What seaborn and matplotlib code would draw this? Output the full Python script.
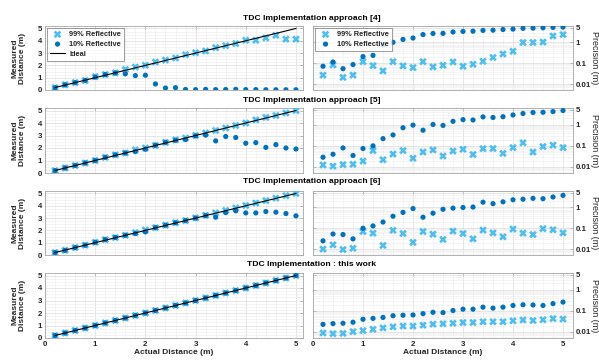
import matplotlib
matplotlib.use("Agg")
import matplotlib.pyplot as plt
import seaborn as sns
import pandas as pd
import numpy as np
from matplotlib.ticker import FixedLocator, NullFormatter, LogLocator

sns.set_theme(style="white")
plt.rcParams['font.family'] = ['Liberation Sans', 'DejaVu Sans']
plt.rcParams['font.weight'] = 'bold'

W, H = 599, 361

actual = [0.2, 0.4, 0.6, 0.8, 1.0, 1.2, 1.4, 1.6, 1.8, 2.0, 2.2, 2.4, 2.6,
          2.8, 3.0, 3.2, 3.4, 3.6, 3.8, 4.0, 4.2, 4.4, 4.6, 4.8, 5.0]

titles = ["TDC Implementation approach [4]", "TDC Implementation approach [5]",
          "TDC Implementation approach [6]", "TDC Implementation : this work"]

# measured distance (m)
meas99_ref4 = [0.18, 0.42, 0.6, 0.77, 1.08, 1.26, 1.39, 1.67, 1.86, 2.01, 2.27, 2.43, 2.6,
               2.87, 3.03, 3.17, 3.44, 3.6, 3.77, 4.04, 4.04, 4.23, 4.45, 4.13, 4.13]
meas10_ref4 = [0.18, 0.42, 0.6, 0.78, 1.05, 1.25, 1.38, 1.31, 1.17, 1.2, 0.49, 0.16, 0.19,
               0.04, 0.03, 0.05, 0.03, 0.04, 0.05, 0.03, 0.03, 0.02, 0.02, 0.02, 0.02]
meas99_ref5 = [0.19, 0.4, 0.6, 0.8, 1.0, 1.25, 1.45, 1.6, 1.85, 2.0, 2.2, 2.45, 2.65,
               2.8, 3.0, 3.2, 3.4, 3.6, 3.8, 4.0, 4.25, 4.45, 4.6, 4.8, 5.0]
meas10_ref5 = [0.19, 0.4, 0.6, 0.8, 1.0, 1.25, 1.45, 1.6, 1.72, 1.9, 2.22, 2.45, 2.62,
               2.68, 2.97, 3.03, 2.57, 2.92, 2.84, 2.38, 2.43, 2.05, 2.27, 2.0, 1.92]
meas99_ref6 = [0.2, 0.38, 0.6, 0.8, 1.03, 1.25, 1.42, 1.6, 1.82, 2.03, 2.22, 2.42, 2.62,
               2.8, 3.02, 3.22, 3.42, 3.62, 3.82, 4.02, 4.22, 4.42, 4.62, 4.82, 5.0]
meas10_ref6 = [0.2, 0.38, 0.6, 0.8, 1.03, 1.25, 1.42, 1.6, 1.75, 1.88, 2.22, 2.42, 2.62,
               2.8, 3.0, 3.2, 3.07, 3.45, 3.59, 3.42, 3.42, 3.53, 3.48, 3.37, 3.18]
meas99_this = [0.2, 0.4, 0.6, 0.8, 1.0, 1.2, 1.4, 1.6, 1.8, 2.0, 2.2, 2.4, 2.6,
               2.8, 3.0, 3.2, 3.4, 3.6, 3.8, 4.0, 4.2, 4.4, 4.6, 4.8, 5.0]
meas10_this = [0.2, 0.4, 0.6, 0.8, 1.0, 1.2, 1.4, 1.6, 1.8, 2.0, 2.2, 2.4, 2.6,
               2.8, 3.0, 3.2, 3.4, 3.6, 3.8, 4.0, 4.2, 4.4, 4.6, 4.8, 5.0]

# precision (m)
prec99_ref4 = [0.027, 0.083, 0.021, 0.027, 0.12, 0.077, 0.043, 0.12, 0.075, 0.062, 0.12, 0.067, 0.08,
               0.116, 0.072, 0.09, 0.125, 0.19, 0.28, 0.38, 1.0, 1.0, 1.05, 2.05, 2.4]
prec10_ref4 = [0.072, 0.115, 0.055, 0.087, 0.21, 0.24, 0.76, 1.02, 1.4, 1.64, 2.4, 2.7, 2.75,
               3.2, 3.4, 3.5, 3.8, 3.9, 4.2, 4.4, 4.8, 4.9, 5.1, 5.3, 5.5]
prec99_ref5 = [0.0125, 0.011, 0.013, 0.0135, 0.019, 0.06, 0.022, 0.041, 0.06, 0.026, 0.051, 0.064, 0.033,
               0.057, 0.069, 0.039, 0.074, 0.075, 0.044, 0.083, 0.14, 0.051, 0.093, 0.108, 0.083]
prec10_ref5 = [0.029, 0.04, 0.08, 0.035, 0.075, 0.1, 0.22, 0.33, 0.72, 0.96, 0.55, 1.03, 0.93,
               1.45, 1.75, 1.68, 2.35, 2.2, 2.4, 2.9, 3.4, 3.8, 3.9, 4.2, 4.7]
prec99_ref6 = [0.01, 0.016, 0.0095, 0.011, 0.07, 0.058, 0.015, 0.08, 0.056, 0.021, 0.07, 0.052, 0.029,
               0.073, 0.056, 0.031, 0.082, 0.06, 0.039, 0.092, 0.058, 0.05, 0.096, 0.085, 0.06]
prec10_ref6 = [0.025, 0.053, 0.05, 0.031, 0.1, 0.13, 0.2, 0.38, 0.58, 0.89, 0.34, 0.53, 0.82,
               0.93, 1.0, 1.05, 1.8, 1.53, 1.87, 2.35, 2.5, 2.75, 2.65, 3.2, 3.8]
prec99_this = [0.009, 0.0083, 0.0086, 0.0104, 0.0116, 0.0134, 0.0156, 0.0175, 0.019, 0.019, 0.021, 0.0235, 0.0245,
               0.026, 0.028, 0.028, 0.0305, 0.0305, 0.0305, 0.034, 0.037, 0.035, 0.038, 0.043, 0.041]
prec10_this = [0.023, 0.025, 0.026, 0.029, 0.04, 0.044, 0.049, 0.059, 0.062, 0.064, 0.074, 0.086, 0.083,
               0.104, 0.12, 0.12, 0.15, 0.135, 0.15, 0.18, 0.195, 0.19, 0.18, 0.22, 0.26]

meas99 = [meas99_ref4, meas99_ref5, meas99_ref6, meas99_this]
meas10 = [meas10_ref4, meas10_ref5, meas10_ref6, meas10_this]
prec99 = [prec99_ref4, prec99_ref5, prec99_ref6, prec99_this]
prec10 = [prec10_ref4, prec10_ref5, prec10_ref6, prec10_this]

C99 = "#4DBEEE"
C10 = "#0072BD"
FRAME = "#a6a6a6"
TXT = "#262626"
S99, S10 = 30, 14

fig = plt.figure(figsize=(W / 100, H / 100), dpi=100)

def rect(l, t, r, b):
    return [l / W, 1 - b / H, (r - l) / W, (b - t) / H]

panel_tb = [(26, 90), (108, 173), (191, 255), (273, 338)]
title_y = [18, 100, 182, 264]

def style_axes(ax):
    for s in ax.spines.values():
        s.set_color(FRAME)
        s.set_linewidth(0.6)
    ax.grid(True, which='major', color='#dcdcdc', linewidth=0.5)
    ax.grid(True, which='minor', color='#ececec', linewidth=0.4)
    ax.tick_params(which='both', direction='in', color=FRAME, labelsize=5.7,
                   labelcolor=TXT, pad=2, top=True, width=0.5)
    ax.tick_params(which='major', length=2.5)
    ax.tick_params(which='minor', length=0)
    ax.set_axisbelow(True)

def make_legend(ax):
    leg = ax.legend(loc="upper left", fontsize=5.3, frameon=True, borderpad=0.4,
                    handlelength=2.0, labelspacing=0.35, borderaxespad=0.3,
                    handletextpad=0.6, fancybox=False)
    leg.get_frame().set_edgecolor("#555555")
    leg.get_frame().set_linewidth(0.5)

for i in range(4):
    t, b = panel_tb[i]
    dfm = pd.DataFrame({"x": actual, "m99": meas99[i], "m10": meas10[i]})
    dfp = pd.DataFrame({"x": actual, "p99": prec99[i], "p10": prec10[i]})

    # left: measured distance
    axl = fig.add_axes(rect(45, t, 303, b))
    sns.scatterplot(data=dfm, x="x", y="m99", ax=axl, marker="X", s=S99, color=C99,
                    edgecolor="none", label="99% Reflective", zorder=3)
    sns.scatterplot(data=dfm, x="x", y="m10", ax=axl, marker="o", s=S10, color=C10,
                    edgecolor="none", label="10% Reflective", zorder=4)
    sns.lineplot(x=actual, y=actual, ax=axl, color="black", linewidth=0.8,
                 label="Ideal", zorder=5)
    axl.set_xlim(0, 5.14)
    axl.set_ylim(0, 5.2)
    axl.set_yticks([0, 1, 2, 3, 4, 5])
    axl.set_xticks([0, 1, 2, 3, 4, 5])
    axl.xaxis.set_minor_locator(FixedLocator(np.arange(0, 5.15, 0.2)))
    axl.yaxis.set_minor_locator(FixedLocator(np.arange(0, 5.2, 0.25)))
    style_axes(axl)
    axl.tick_params(right=True)
    axl.set_xlabel("")
    axl.set_ylabel("")
    if i < 3:
        axl.tick_params(labelbottom=False)
    if i == 0:
        make_legend(axl)
    else:
        axl.get_legend().remove()
    fig.text(19 / W, 1 - ((t + b) / 2) / H, "Measured\nDistance (m)", rotation=90,
             ha="center", va="center", fontsize=6, fontweight="bold", color=TXT,
             linespacing=1.1)

    # right: precision
    axr = fig.add_axes(rect(313, t, 573, b))
    sns.scatterplot(data=dfp, x="x", y="p99", ax=axr, marker="X", s=S99, color=C99,
                    edgecolor="none", label="99% Reflective", zorder=3)
    sns.scatterplot(data=dfp, x="x", y="p10", ax=axr, marker="o", s=S10, color=C10,
                    edgecolor="none", label="10% Reflective", zorder=4)
    axr.set_yscale("log")
    axr.set_xlim(0, 5.2)
    axr.set_ylim(0.0052, 6.2)
    axr.set_xticks([0, 1, 2, 3, 4, 5])
    axr.xaxis.set_minor_locator(FixedLocator(np.arange(0, 5.25, 0.2)))
    axr.set_yticks([0.01, 0.1, 1, 5])
    axr.set_yticklabels(["0.01", "0.1", "1", "5"])
    axr.yaxis.set_minor_locator(LogLocator(base=10, subs=np.arange(2, 10)))
    axr.yaxis.set_minor_formatter(NullFormatter())
    style_axes(axr)
    axr.tick_params(axis="y", left=True, right=True, labelleft=False, labelright=True)
    axr.set_xlabel("")
    axr.set_ylabel("")
    if i < 3:
        axr.tick_params(labelbottom=False)
    if i == 0:
        make_legend(axr)
    else:
        axr.get_legend().remove()
    fig.text(594 / W, 1 - ((t + b) / 2) / H, "Precision (m)", rotation=270,
             ha="center", va="center", fontsize=6.5, fontweight="normal", color=TXT)

    fig.text(312 / W, 1 - title_y[i] / H, titles[i], ha="center", va="center",
             fontsize=6.1, fontweight="bold", color="black")

fig.text(174 / W, 1 - 353 / H, "Actual Distance (m)", ha="center", va="center",
         fontsize=6, fontweight="bold", color=TXT)
fig.text(443 / W, 1 - 353 / H, "Actual Distance (m)", ha="center", va="center",
         fontsize=6, fontweight="bold", color=TXT)

fig.savefig("out.png", dpi=100, facecolor="white")
